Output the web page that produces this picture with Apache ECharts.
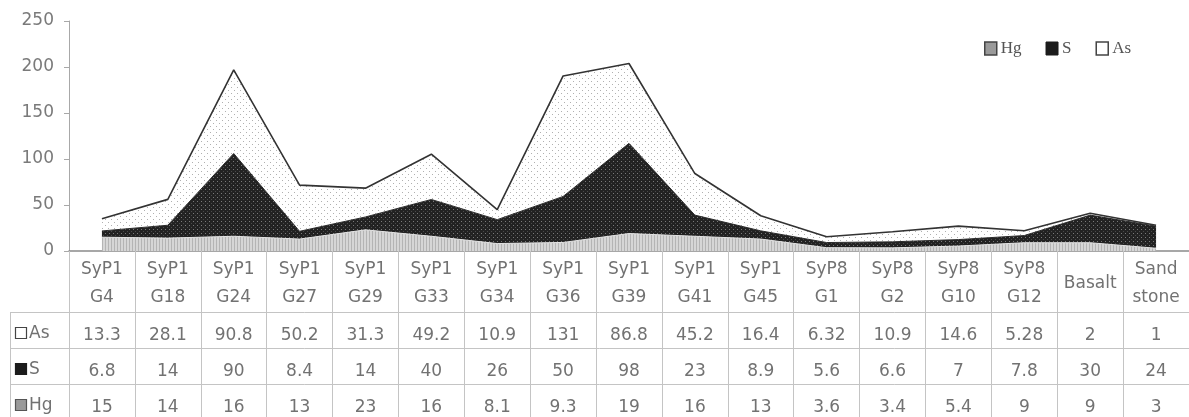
<!DOCTYPE html>
<html>
<head>
<meta charset="utf-8">
<script src="https://cdn.jsdelivr.net/npm/echarts@6/dist/echarts.min.js"></script>
<style>
  html, body { margin: 0; padding: 0; background: #fff; }
  #chart { width: 1189px; height: 417px; }
</style>
</head>
<body>
<div id="chart"></div>
<script>
// Sample names (two-line headers of the data table)
const categories = ['SyP1\nG4', 'SyP1\nG18', 'SyP1\nG24', 'SyP1\nG27', 'SyP1\nG29', 'SyP1\nG33',
  'SyP1\nG34', 'SyP1\nG36', 'SyP1\nG39', 'SyP1\nG41', 'SyP1\nG45', 'SyP8\nG1', 'SyP8\nG2',
  'SyP8\nG10', 'SyP8\nG12', 'Basalt', 'Sand\nstone'];
// Element contents per sample (stacked bottom to top: Hg, S, As)
const hgValues = [15, 14, 16, 13, 23, 16, 8.1, 9.3, 19, 16, 13, 3.6, 3.4, 5.4, 9, 9, 3];
const sValues = [6.8, 14, 90, 8.4, 14, 40, 26, 50, 98, 23, 8.9, 5.6, 6.6, 7, 7.8, 30, 24];
const asValues = [13.3, 28.1, 90.8, 50.2, 31.3, 49.2, 10.9, 131, 86.8, 45.2, 16.4, 6.32, 10.9, 14.6, 5.28, 2, 1];
const seriesNames = ['Hg', 'S', 'As'];
const yMin = 0, yMax = 250, yStep = 50;

const FONT = 'DejaVu Sans';
const TEXT = '#727272';
const GRID_LINE = '#c4c4c4';

// Small tiled fill patterns
function makePattern(w, h, draw) {
  const c = document.createElement('canvas');
  c.width = w; c.height = h;
  const ctx = c.getContext('2d');
  draw(ctx);
  return { image: c, repeat: 'repeat' };
}
const hgFill = makePattern(3, 3, ctx => {
  ctx.fillStyle = '#d6d6d6'; ctx.fillRect(0, 0, 3, 3);
  ctx.fillStyle = '#b4b4b4'; ctx.fillRect(0, 0, 1, 3);
});
const sFill = makePattern(4, 4, ctx => {
  ctx.fillStyle = '#222'; ctx.fillRect(0, 0, 4, 4);
  ctx.fillStyle = '#7a7a7a'; ctx.fillRect(1, 1, 1, 1);
  ctx.fillStyle = '#4a4a4a'; ctx.fillRect(3, 3, 1, 1);
});
const asFill = makePattern(6, 6, ctx => {
  ctx.fillStyle = '#fff'; ctx.fillRect(0, 0, 6, 6);
  ctx.fillStyle = '#b0b0b0'; ctx.fillRect(0, 0, 1, 1); ctx.fillRect(3, 3, 1, 1);
});

const rows = [
  { name: 'As', values: asValues },
  { name: 'S', values: sValues },
  { name: 'Hg', values: hgValues }
];

// Data table rendered beneath the axis through the category labels
function tableLabel(value, index) {
  const parts = value.split('\n');
  let head;
  if (parts.length === 1) head = '{h1|' + parts[0] + '}';
  else head = parts.map(p => '{h|' + p + '}').join('\n');
  const body = rows.map(r => '{v|' + String(r.values[index]) + '}').join('\n');
  return head + '\n{sp| }\n' + body;
}

const chart = echarts.init(document.getElementById('chart'), null, { renderer: 'canvas' });

const tableTop = 312.5, rowH = 36;
const graphics = [];
// horizontal rules of the table
[0, 1, 2].forEach(k => {
  graphics.push({
    type: 'line', silent: true,
    shape: { x1: 10, y1: tableTop + k * rowH, x2: 1189, y2: tableTop + k * rowH },
    style: { stroke: GRID_LINE, lineWidth: 1 }
  });
});
graphics.push({
  type: 'line', silent: true,
  shape: { x1: 10.5, y1: tableTop, x2: 10.5, y2: 417 },
  style: { stroke: GRID_LINE, lineWidth: 1 }
});
// row keys
const keyStyles = {
  As: { fill: '#fff', stroke: '#444' },
  S: { fill: '#1c1c1c', stroke: '#1c1c1c' },
  Hg: { fill: '#9a9a9a', stroke: '#555' }
};
rows.forEach((r, k) => {
  const cy = tableTop + 21 + k * rowH;
  graphics.push({
    type: 'rect', silent: true,
    shape: { x: 15.5, y: cy - 6, width: 11, height: 11 },
    style: { fill: keyStyles[r.name].fill, stroke: keyStyles[r.name].stroke, lineWidth: 1.2 }
  });
  graphics.push({
    type: 'text', silent: true, x: 29, y: cy,
    style: { text: r.name, fontFamily: FONT, fontSize: 17, fill: TEXT, verticalAlign: 'middle' }
  });
});

const option = {
  animation: false,
  backgroundColor: '#fff',
  grid: { left: 69, top: 21, width: 1126, height: 230, containLabel: false },
  legend: {
    left: 979, top: 35,
    itemWidth: 12, itemHeight: 13, itemGap: 24,
    textStyle: { fontFamily: 'Liberation Serif', fontSize: 17, color: '#555', padding: [0, 0, 0, -1] },
    data: [
      { name: 'Hg', icon: 'rect', itemStyle: { color: '#9a9a9a', borderColor: '#444', borderWidth: 1.5 } },
      { name: 'S', icon: 'rect', itemStyle: { color: '#1c1c1c', borderColor: '#1c1c1c', borderWidth: 1 } },
      { name: 'As', icon: 'rect', itemStyle: { color: '#fff', borderColor: '#444', borderWidth: 1.5 } }
    ]
  },
  xAxis: {
    type: 'category',
    data: categories,
    boundaryGap: true,
    axisLine: { show: true, lineStyle: { color: '#8a8a8a', width: 1.5 } },
    axisTick: { show: true, interval: 0, length: 166, lineStyle: { color: GRID_LINE, width: 1 } },
    axisLabel: {
      interval: 0,
      margin: 5,
      formatter: tableLabel,
      rich: {
        h: { fontFamily: FONT, fontSize: 17, lineHeight: 28, color: TEXT, align: 'center' },
        h1: { fontFamily: FONT, fontSize: 17, lineHeight: 56, color: TEXT, align: 'center' },
        sp: { fontSize: 1, lineHeight: 6 },
        v: { fontFamily: FONT, fontSize: 17, lineHeight: 36, color: TEXT, align: 'center' }
      }
    },
    splitLine: { show: false }
  },
  yAxis: {
    type: 'value',
    min: yMin, max: yMax, interval: yStep,
    axisLine: { show: true, lineStyle: { color: '#a8a8a8', width: 1 } },
    axisTick: { show: true, length: 5, lineStyle: { color: '#a8a8a8' } },
    axisLabel: { fontFamily: FONT, fontSize: 17, color: '#7a7a7a', margin: 15 },
    splitLine: { show: false }
  },
  series: [
    {
      name: 'Hg', type: 'line', stack: 'total', data: hgValues,
      showSymbol: false, symbol: 'none',
      lineStyle: { color: '#e2e2e2', width: 1 },
      areaStyle: { color: hgFill, opacity: 1 },
      itemStyle: { color: '#9a9a9a' },
      z: 2
    },
    {
      name: 'S', type: 'line', stack: 'total', data: sValues,
      showSymbol: false, symbol: 'none',
      lineStyle: { color: '#2a2a2a', width: 1 },
      areaStyle: { color: sFill, opacity: 1 },
      itemStyle: { color: '#1c1c1c' },
      z: 2
    },
    {
      name: 'As', type: 'line', stack: 'total', data: asValues,
      showSymbol: false, symbol: 'none',
      lineStyle: { color: '#333', width: 1.6 },
      areaStyle: { color: asFill, opacity: 1 },
      itemStyle: { color: '#fff' },
      z: 2
    }
  ],
  graphic: graphics
};

chart.setOption(option);
</script>
</body>
</html>
